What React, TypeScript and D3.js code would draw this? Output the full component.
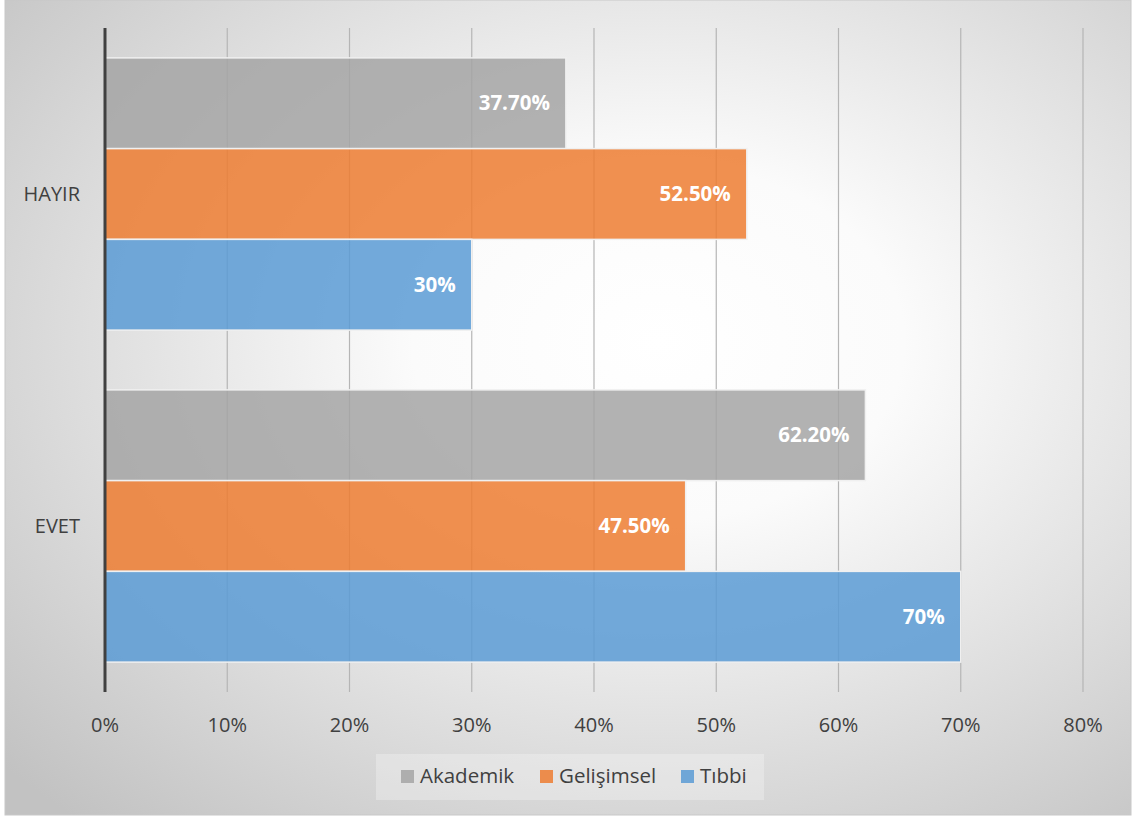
import React from "react";
import * as d3 from "d3";

const categories = ["HAYIR", "EVET"];
const seriesNames = ["Akademik", "Gelişimsel", "Tıbbi"];
const seriesColors = ["#A5A5A5", "#ED7D31", "#5B9BD5"];
const akademik = [37.7, 62.2];
const gelisimsel = [52.5, 47.5];
const tibbi = [30, 70];
const labelsText = [
  ["37.70%", "62.20%"],
  ["52.50%", "47.50%"],
  ["30%", "70%"],
];
const xTicks = [0, 10, 20, 30, 40, 50, 60, 70, 80];

const W = 1136;
const H = 818;
const font = "'Open Sans', 'Noto Sans', sans-serif";

export default function App() {
  const values = [akademik, gelisimsel, tibbi];
  const x = d3.scaleLinear().domain([0, 80]).range([105, 1083]);
  const y0 = d3.scaleBand().domain(categories).range([28, 692]).paddingInner(0.18).paddingOuter(0.09);
  const y1 = d3.scaleBand().domain(seriesNames).range([0, y0.bandwidth()]);

  return (
    <svg width={W} height={H} style={{ position: "absolute", left: 0, top: 0 }}>
      <defs>
        <radialGradient id="bg" cx="0.58" cy="0.42" r="0.78">
          <stop offset="0" stopColor="#ffffff" />
          <stop offset="0.28" stopColor="#fbfbfb" />
          <stop offset="1" stopColor="#c2c2c2" />
        </radialGradient>
      </defs>
      <rect x={0} y={0} width={W} height={H} fill="#ffffff" />
      <rect x={5} y={0} width={1126} height={815} fill="url(#bg)" stroke="#c8c8c8" strokeWidth={1} />
      {xTicks.slice(1).map((t) => (
        <line key={t} x1={x(t)} x2={x(t)} y1={28} y2={692} stroke="#b5b5b5" strokeWidth={1.2} />
      ))}
      {categories.map((c, ci) =>
        seriesNames.map((s, si) => {
          const v = values[si][ci];
          const yy = (y0(c) as number) + (y1(s) as number);
          const bh = y1.bandwidth();
          return (
            <g key={c + s}>
              <rect
                x={x(0)}
                y={yy}
                width={x(v) - x(0)}
                height={bh}
                fill={seriesColors[si]}
                fillOpacity={0.85}
                stroke="#f0f0f0"
                strokeWidth={1.5}
              />
              <text
                x={x(v) - 16}
                y={yy + bh / 2}
                dy="0.35em"
                textAnchor="end"
                fill="#ffffff"
                fontFamily={font}
                fontWeight="bold"
                fontSize={20.5}
              >
                {labelsText[si][ci]}
              </text>
            </g>
          );
        })
      )}
      <line x1={x(0)} x2={x(0)} y1={28} y2={692} stroke="#404040" strokeWidth={3} />
      {categories.map((c) => (
        <text
          key={c}
          x={80}
          y={(y0(c) as number) + y0.bandwidth() / 2}
          dy="0.35em"
          textAnchor="end"
          fill="#404040"
          fontFamily={font}
          fontSize={20}
        >
          {c}
        </text>
      ))}
      {xTicks.map((t) => (
        <text
          key={t}
          x={x(t)}
          y={725}
          dy="0.35em"
          textAnchor="middle"
          fill="#404040"
          fontFamily={font}
          fontSize={20}
        >
          {t}%
        </text>
      ))}
      <rect x={376} y={754} width={388} height={46} fill="#f6f6f6" fillOpacity={0.35} />
      {seriesNames.map((s, i) => {
        const lx = [401, 540, 681][i];
        return (
          <g key={s}>
            <rect x={lx} y={770} width={13} height={13} fill={seriesColors[i]} fillOpacity={0.85} />
            <text x={lx + 19} y={776} dy="0.35em" fill="#404040" fontFamily={font} fontSize={20.5}>
              {s}
            </text>
          </g>
        );
      })}
    </svg>
  );
}
